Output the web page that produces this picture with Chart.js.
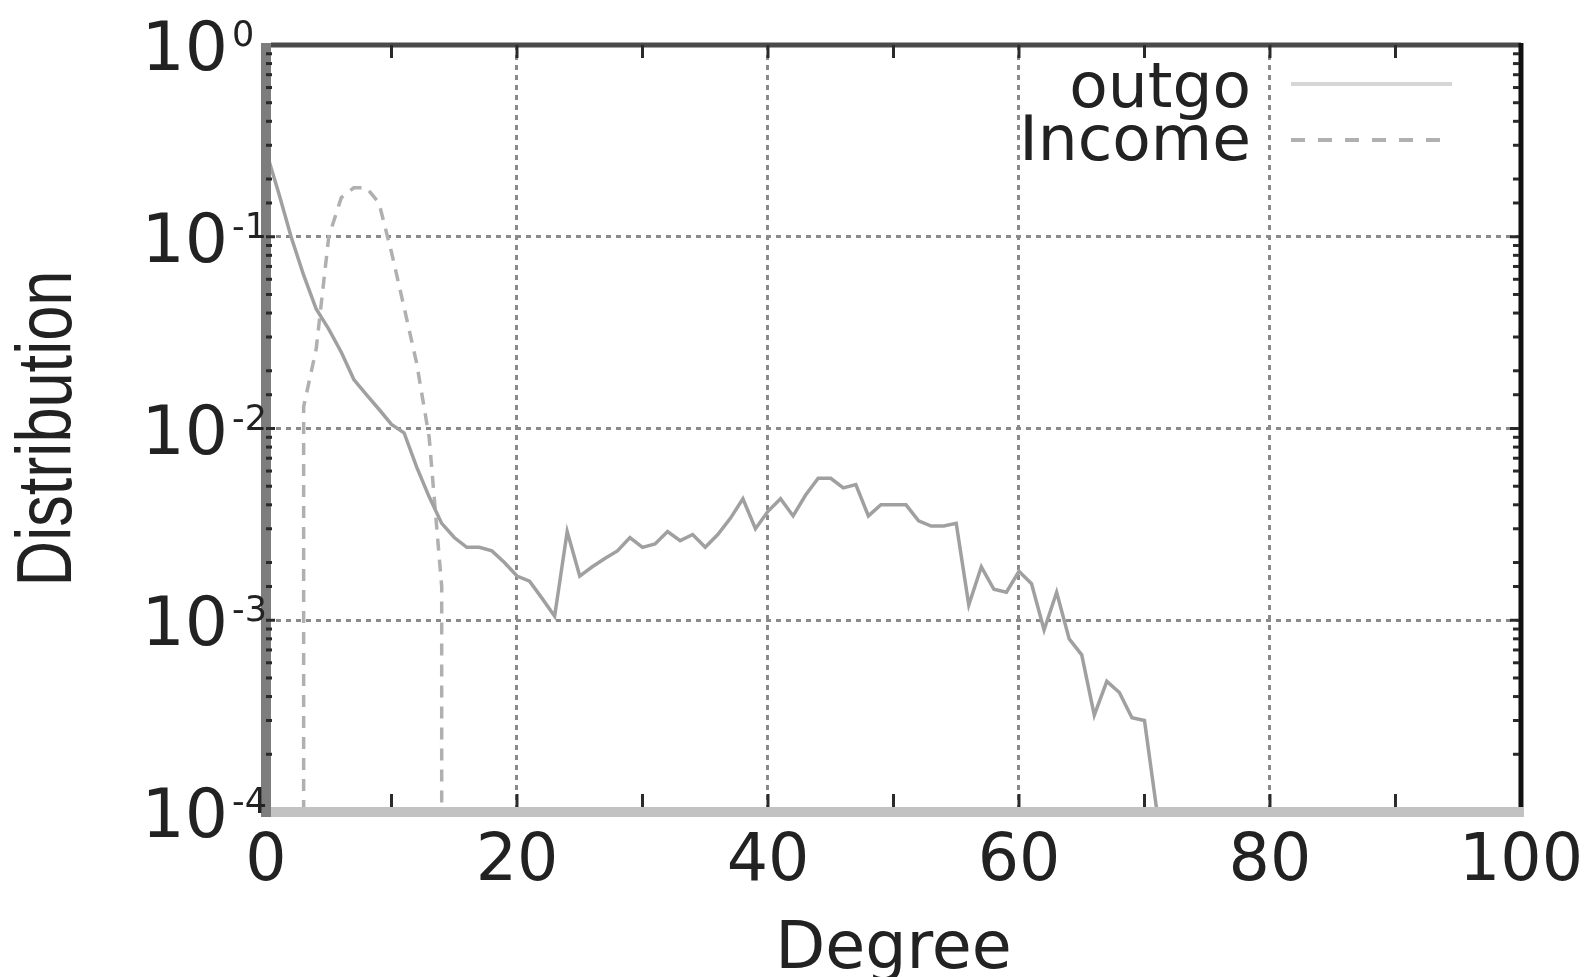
<!DOCTYPE html>
<html>
<head>
<meta charset="utf-8">
<script src="https://cdn.jsdelivr.net/npm/chart.js@4.4.0/dist/chart.umd.min.js"></script>
<style>
  html, body { margin: 0; padding: 0; background: #fff; }
</style>
</head>
<body>
<canvas id="degreeChart" width="1595" height="977"></canvas>
<script>
// values (degree 0..71 for outgo)
const outgoValues = [
  0.28, 0.17, 0.10, 0.063, 0.042, 0.033, 0.025, 0.018, 0.015, 0.0126,
  0.0105, 0.0095, 0.0063, 0.0044, 0.0032, 0.0027, 0.0024, 0.0024, 0.0023, 0.0020,
  0.0017, 0.0016, 0.0013, 0.00105, 0.0029, 0.0017, 0.0019, 0.0021, 0.0023, 0.0027,
  0.0024, 0.0025, 0.0029, 0.0026, 0.0028, 0.0024, 0.0028, 0.0034, 0.0043, 0.0030,
  0.0037, 0.0043, 0.0035, 0.0045, 0.0055, 0.0055, 0.0049, 0.0051, 0.0035, 0.0040,
  0.0040, 0.0040, 0.0033, 0.0031, 0.0031, 0.0032, 0.0012, 0.0019, 0.00145, 0.0014,
  0.0018, 0.00155, 0.00089, 0.0014, 0.0008, 0.00066, 0.00032, 0.00048, 0.00042, 0.00031,
  0.00030, 0.0001
];
const incomeDegrees = [3, 3, 4, 5, 6, 7, 8, 9, 10, 11, 12, 13, 14, 14];
const incomeValues = [0.0001, 0.013, 0.026, 0.10, 0.16, 0.18, 0.18, 0.15, 0.083, 0.043, 0.022, 0.009, 0.0015, 0.0001];

const seriesNames = ['outgo', 'Income'];
const xTickValues = [0, 20, 40, 60, 80, 100];
const yTickValues = [1, 0.1, 0.01, 0.001, 0.0001];
const yTickExponents = ['0', '-1', '-2', '-3', '-4'];

const isDecade = v => Math.abs(Math.log10(v) - Math.round(Math.log10(v))) < 1e-6;

// frame like gnuplot: grey left/bottom, dark top/right, ticks pointing inwards
const frame = {
  id: 'frame',
  afterDraw(chart) {
    const { ctx, chartArea: a, scales: { x, y } } = chart;
    const seg = (x1, y1, x2, y2) => { ctx.beginPath(); ctx.moveTo(x1, y1); ctx.lineTo(x2, y2); ctx.stroke(); };
    ctx.save();
    ctx.setLineDash([]);
    ctx.lineCap = 'butt';

    ctx.strokeStyle = '#c2c2c2'; ctx.lineWidth = 10;
    seg(a.left, a.bottom, a.right + 3, a.bottom);
    ctx.strokeStyle = '#7d7d7d'; ctx.lineWidth = 10;
    seg(a.left, a.top - 2, a.left, a.bottom + 5);
    ctx.strokeStyle = '#4a4a4a'; ctx.lineWidth = 5;
    seg(a.left + 5, a.top, a.right, a.top);
    ctx.strokeStyle = '#111'; ctx.lineWidth = 5;
    seg(a.right, a.top - 2, a.right, a.bottom - 5);

    ctx.strokeStyle = '#2a2a2a'; ctx.lineWidth = 3;
    x.ticks.forEach(t => {
      if (t.value <= 0 || t.value >= 100) return;
      const px = x.getPixelForValue(t.value);
      seg(px, a.top, px, a.top + 13);
      seg(px, a.bottom - 5, px, a.bottom - 18);
    });
    y.ticks.forEach(t => {
      const py = y.getPixelForValue(t.value);
      if (py < a.top + 3 || py > a.bottom - 3) return;
      const len = isDecade(t.value) ? 9 : 6;
      seg(a.left, py, a.left + len, py);
      seg(a.right - 2, py, a.right - 2 - len, py);
    });
    ctx.restore();
  }
};

// "10" with a raised exponent, and the narrow rotated y title
const yLabels = {
  id: 'yLabels',
  afterDraw(chart) {
    const { ctx, chartArea: a, scales: { y } } = chart;
    ctx.save();
    ctx.fillStyle = '#222';
    ctx.textBaseline = 'alphabetic';
    yTickValues.forEach((v, i) => {
      const py = y.getPixelForValue(v);
      ctx.font = '68px "DejaVu Sans"';
      ctx.textAlign = 'right';
      ctx.fillText('10', 228, py + 25);
      ctx.font = '35px "DejaVu Sans"';
      ctx.textAlign = 'left';
      ctx.fillText(yTickExponents[i], 232, py + 1);
    });

    const t = chart.options.scales.y.title;
    ctx.translate(48, (a.top + a.bottom) / 2);
    ctx.rotate(-Math.PI / 2);
    ctx.scale(0.82, 1);
    ctx.font = '77px "Liberation Sans"';
    ctx.textAlign = 'center';
    ctx.textBaseline = 'middle';
    ctx.fillText(t.text, 0, 2);
    ctx.restore();
  }
};

const legendBox = {
  id: 'legendBox',
  afterDraw(chart) {
    const { ctx } = chart;
    const rows = [
      { lineY: 84, baseY: 107, color: '#d6d6d6', dash: [] },
      { lineY: 140, baseY: 160, color: '#b0b0b0', dash: [14, 13] }
    ];
    ctx.save();
    chart.data.datasets.forEach((ds, i) => {
      const r = rows[i];
      ctx.font = '63px "DejaVu Sans"';
      ctx.textAlign = 'right';
      ctx.textBaseline = 'alphabetic';
      ctx.fillStyle = '#222';
      ctx.fillText(ds.label, 1251, r.baseY);
      ctx.strokeStyle = r.color;
      ctx.lineWidth = 4;
      ctx.setLineDash(r.dash);
      ctx.beginPath();
      ctx.moveTo(1291, r.lineY);
      ctx.lineTo(1452, r.lineY);
      ctx.stroke();
    });
    ctx.restore();
  }
};

const ctx = document.getElementById('degreeChart').getContext('2d');

const degreeChart = new Chart(ctx, {
  type: 'line',
  data: {
    datasets: [{
      label: seriesNames[0],
      data: outgoValues.map((v, i) => ({ x: i, y: v })),
      borderColor: '#a0a0a0',
      borderWidth: 3.5,
      pointRadius: 0,
      tension: 0,
      fill: false
    }, {
      label: seriesNames[1],
      data: incomeDegrees.map((d, i) => ({ x: d, y: incomeValues[i] })),
      borderColor: '#b0b0b0',
      borderWidth: 3.5,
      borderDash: [12, 9],
      pointRadius: 0,
      tension: 0,
      fill: false
    }]
  },
  options: {
    responsive: false,
    animation: false,
    layout: { padding: { top: 45, right: 71, left: 0, bottom: 0 } },
    plugins: {
      legend: { display: false },
      tooltip: { enabled: false }
    },
    scales: {
      x: {
        type: 'linear',
        min: 0,
        max: 100,
        afterFit: s => { s.height = 165; },
        ticks: {
          stepSize: 10,
          autoSkip: false,
          maxRotation: 0,
          padding: 12,
          color: '#222',
          font: { family: 'DejaVu Sans', size: 65 },
          callback: v => xTickValues.includes(v) ? String(v) : ''
        },
        grid: {
          drawTicks: false,
          lineWidth: 3,
          color: c => (c.tick && c.tick.value % 20 === 0 && c.tick.value > 0 && c.tick.value < 100) ? '#8a8a8a' : 'rgba(0,0,0,0)'
        },
        border: { display: false, dash: [5, 5] },
        title: {
          display: true,
          text: 'Degree',
          color: '#222',
          padding: 0,
          font: { family: 'DejaVu Sans', size: 65, lineHeight: 0.8 }
        }
      },
      y: {
        type: 'logarithmic',
        min: 0.0001,
        max: 1,
        afterFit: s => { s.width = 266; },
        ticks: {
          autoSkip: false,
          display: false
        },
        grid: {
          drawTicks: false,
          lineWidth: 3,
          color: c => (c.tick && isDecade(c.tick.value) && c.tick.value < 0.5 && c.tick.value > 0.0002) ? '#8a8a8a' : 'rgba(0,0,0,0)'
        },
        border: { display: false, dash: [5, 5] },
        title: {
          display: false,
          text: 'Distribution'
        }
      }
    }
  },
  plugins: [frame, yLabels, legendBox]
});
</script>
</body>
</html>
